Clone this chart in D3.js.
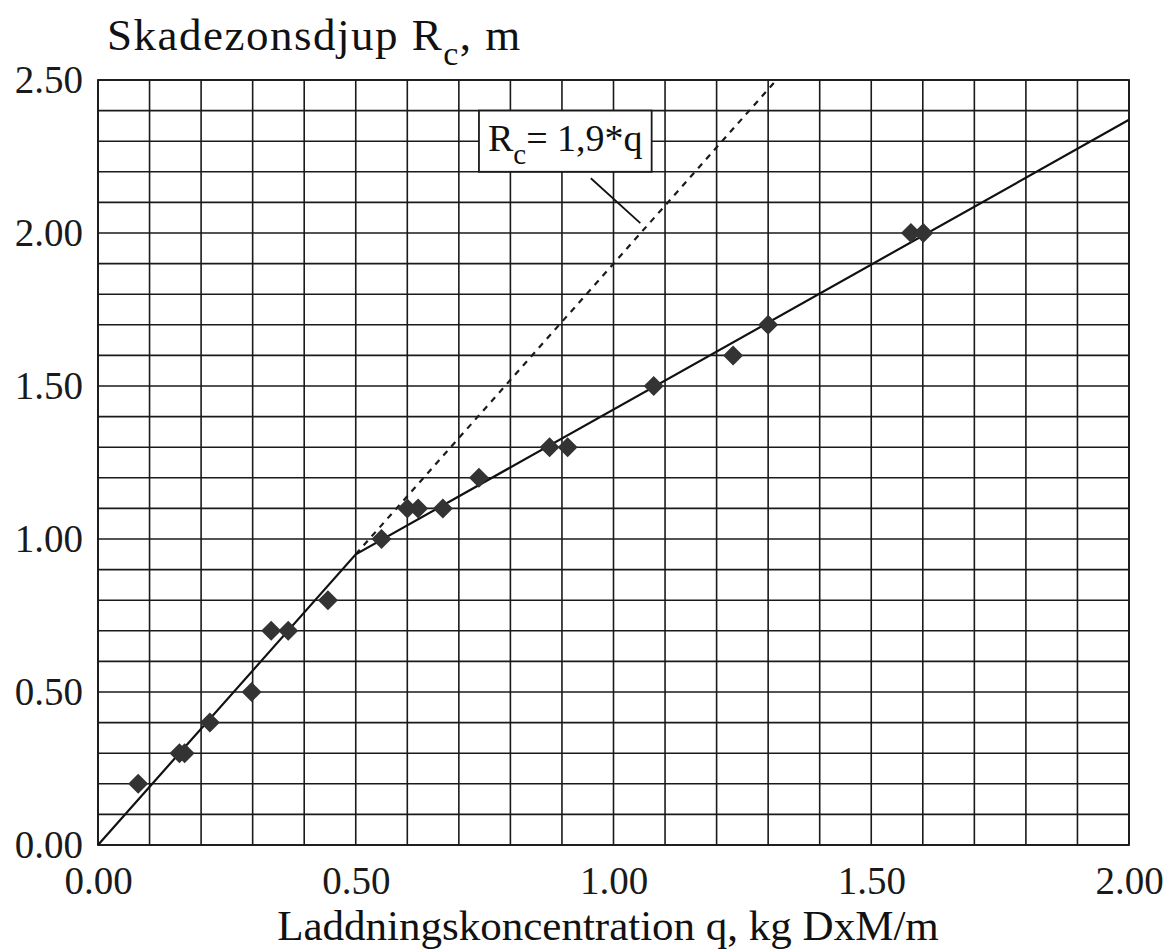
<!DOCTYPE html>
<html>
<head>
<meta charset="utf-8">
<script src="https://cdn.jsdelivr.net/npm/d3@7.9.0/dist/d3.min.js"></script>
<style>
  body { margin: 0; background: #fff; }
  svg { display: block; font-family: "Liberation Serif", "Times New Roman", serif; }
</style>
</head>
<body>
<svg id="chart" width="1171" height="951"></svg>
<script>
// measured points: charge concentration q (kg DxM/m) vs damage zone depth Rc (m)
const qValues = [0.078, 0.158, 0.168, 0.217, 0.298, 0.336, 0.369, 0.446,
  0.55, 0.6, 0.621, 0.669, 0.739, 0.876, 0.911, 1.078, 1.232, 1.30, 1.577, 1.601];
const rcValues = [0.2, 0.3, 0.3, 0.4, 0.5, 0.7, 0.7, 0.8,
  1.0, 1.1, 1.1, 1.1, 1.2, 1.3, 1.3, 1.5, 1.6, 1.7, 2.0, 2.0];

// fitted solid line (break point near q = 0.5)
const fitQ = [0, 0.5, 2.0];
const fitRc = [0, 0.95, 2.37];

// dashed line Rc = 1.9*q
const dashQ = [0.5, 1.316];
const dashRc = [0.95, 2.5];

const xTicks = [0, 0.5, 1.0, 1.5, 2.0];
const yTicks = [0, 0.5, 1.0, 1.5, 2.0, 2.5];

const margin = { top: 80, right: 42, bottom: 106, left: 98 };
const width = 1171 - margin.left - margin.right;
const height = 951 - margin.top - margin.bottom;

const svg = d3.select("#chart");
const g = svg.append("g")
  .attr("transform", `translate(${margin.left},${margin.top})`);

const x = d3.scaleLinear().domain([0, 2]).range([0, width]);
const y = d3.scaleLinear().domain([0, 2.5]).range([height, 0]);

// grid, every 0.1
g.selectAll(".vgrid")
  .data(x.ticks(20))
  .enter()
  .append("line")
  .attr("x1", (d) => x(d))
  .attr("x2", (d) => x(d))
  .attr("y1", 0)
  .attr("y2", height)
  .attr("stroke", "#1a1a1a")
  .attr("stroke-width", 1.6);

g.selectAll(".hgrid")
  .data(y.ticks(25))
  .enter()
  .append("line")
  .attr("x1", 0)
  .attr("x2", width)
  .attr("y1", (d) => y(d))
  .attr("y2", (d) => y(d))
  .attr("stroke", "#1a1a1a")
  .attr("stroke-width", 1.6);

g.append("rect")
  .attr("width", width)
  .attr("height", height)
  .attr("fill", "none")
  .attr("stroke", "#1a1a1a")
  .attr("stroke-width", 1.8);

// axes
const xAxis = g.append("g")
  .attr("transform", `translate(0,${height})`)
  .call(d3.axisBottom(x).tickValues(xTicks).tickFormat(d3.format(".2f")).tickSize(0).tickPadding(21));
const yAxis = g.append("g")
  .call(d3.axisLeft(y).tickValues(yTicks).tickFormat(d3.format(".2f")).tickSize(0).tickPadding(15));

[xAxis, yAxis].forEach((a) => {
  a.select(".domain").remove();
  a.selectAll("text")
    .style("font-family", "'Liberation Serif', serif")
    .style("font-size", "39px")
    .attr("fill", "#1a1a1a");
});
xAxis.selectAll("text").attr("dy", "0.71em");
yAxis.selectAll("text").attr("dy", "0.33em");

// lines
const line = d3.line().x((d) => x(d[0])).y((d) => y(d[1]));

g.append("path")
  .attr("d", line(dashQ.map((q, i) => [q, dashRc[i]])))
  .attr("fill", "none")
  .attr("stroke", "#1a1a1a")
  .attr("stroke-width", 2.2)
  .attr("stroke-dasharray", "6,6");

g.append("path")
  .attr("d", line(fitQ.map((q, i) => [q, fitRc[i]])))
  .attr("fill", "none")
  .attr("stroke", "#111")
  .attr("stroke-width", 2.2);

// diamonds
g.selectAll(".pt")
  .data(qValues.map((q, i) => [q, rcValues[i]]))
  .enter()
  .append("path")
  .attr("transform", (d) => `translate(${x(d[0])},${y(d[1])})`)
  .attr("d", "M0,-10L10,0L0,10L-10,0Z")
  .attr("fill", "#333");

// annotation
g.append("line")
  .attr("x1", x(0.956))
  .attr("y1", y(2.179))
  .attr("x2", x(1.052))
  .attr("y2", y(2.032))
  .attr("stroke", "#111")
  .attr("stroke-width", 1.8);

g.append("rect")
  .attr("x", x(0.739))
  .attr("y", y(2.4))
  .attr("width", x(1.074) - x(0.739))
  .attr("height", y(2.2) - y(2.4))
  .attr("fill", "#fff")
  .attr("stroke", "#1a1a1a")
  .attr("stroke-width", 1.8);

const ann = g.append("text")
  .attr("x", x(0.739) + 9)
  .attr("y", y(2.4) + 40)
  .style("font-size", "38px")
  .attr("fill", "#111");
ann.append("tspan").text("R");
ann.append("tspan").text("c").style("font-size", "29px").attr("dy", 13);
ann.append("tspan").text("= 1,9*q").attr("dy", -13);

// titles
const yTitle = svg.append("text")
  .attr("x", 107)
  .attr("y", 50)
  .style("font-size", "45px")
  .style("letter-spacing", "1.5px")
  .attr("fill", "#111");
yTitle.append("tspan").text("Skadezonsdjup R");
yTitle.append("tspan").text("c").style("font-size", "34px").attr("dy", 15);
yTitle.append("tspan").text(", m").attr("dy", -15);

svg.append("text")
  .attr("x", 608)
  .attr("y", 940)
  .attr("text-anchor", "middle")
  .style("font-size", "43px")
  .attr("fill", "#111")
  .text("Laddningskoncentration q, kg DxM/m");
</script>
</body>
</html>
